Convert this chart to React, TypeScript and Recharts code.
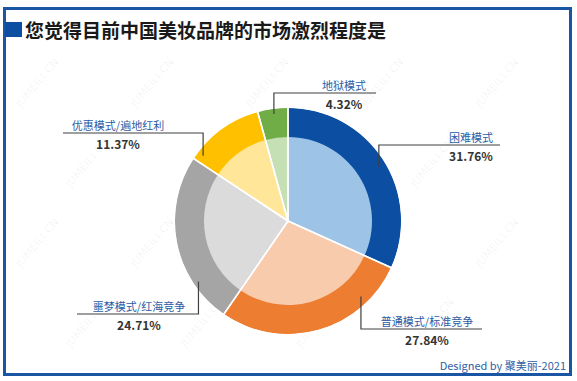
import React from "react";
import { PieChart, Pie, Cell } from "recharts";

const categories = [
  "困难模式",
  "普通模式/标准竞争",
  "噩梦模式/红海竞争",
  "优惠模式/遍地红利",
  "地狱模式",
];
const shares = [31.76, 27.84, 24.71, 11.37, 4.32];

const ringColors = ["#0B4EA2", "#ED7D31", "#A5A5A5", "#FFC000", "#70AD47"];
const fillColors = ["#9DC3E6", "#F8CBAD", "#DBDBDB", "#FFE699", "#C5E0B4"];

// leader line layout, relative to the pie centre
const labelLayout = [
  { angle: 31, r: 106, elbowDy: -76, lineDx: 212, textDx: 183 },
  { angle: -46, r: 105, elbowDy: 108, lineDx: 194, textDx: 139 },
  { angle: -146, r: 108, elbowDy: 93, lineDx: -211, textDx: -149 },
  { angle: 142.5, r: 107, elbowDy: -88, lineDx: -225, textDx: -170 },
  { angle: 97.5, r: 108, elbowDy: -128, lineDx: 88, textDx: 56 },
];

const data = categories.map((name, i) => ({ name, value: shares[i] }));

const CX = 288;
const CY = 221;
const OUTER = 113;
const INNER = 84;
const FONT = '"Noto Sans CJK SC", "Noto Sans", sans-serif';

const renderLabel = (props: any) => {
  const { cx, cy, index } = props;
  const l = labelLayout[index];
  const rad = (l.angle * Math.PI) / 180;
  const ax = cx + l.r * Math.cos(rad);
  const ay = cy - l.r * Math.sin(rad);
  const ey = cy + l.elbowDy;
  const ex = cx + l.lineDx;
  const tx = cx + l.textDx;
  return (
    <g key={`lbl-${index}`}>
      <polyline
        points={`${ax},${ay} ${ax},${ey} ${ex},${ey}`}
        fill="none"
        stroke="#404040"
        strokeWidth={1.2}
      />
      <text
        x={tx}
        y={ey - 8}
        textAnchor="middle"
        dominantBaseline="central"
        fill="#2B5CA5"
        fontSize={11}
        fontFamily={FONT}
      >
        {categories[index]}
      </text>
      <text
        x={tx}
        y={ey + 10.5}
        textAnchor="middle"
        dominantBaseline="central"
        fill="#333333"
        fontSize={12}
        fontWeight="bold"
        fontFamily={FONT}
      >
        {shares[index].toFixed(2)}%
      </text>
    </g>
  );
};

const Watermark: React.FC = () => {
  const items: React.ReactElement[] = [];
  for (let row = 0; row < 4; row++) {
    for (let col = 0; col < 5; col++) {
      const x = 40 + col * 115 + (row % 2) * 50;
      const y = 85 + row * 80;
      if (x > 540) continue;
      items.push(
        <text
          key={`${row}-${col}`}
          x={x}
          y={y}
          transform={`rotate(-50 ${x} ${y})`}
          fontSize={11}
          fontFamily="DejaVu Sans, sans-serif"
          fill="#000"
          fillOpacity={0.06}
          textAnchor="middle"
        >
          JUMEILI.CN
        </text>
      );
    }
  }
  return (
    <svg width={577} height={381} style={{ position: "absolute", left: 0, top: 0, pointerEvents: "none" }}>
      {items}
    </svg>
  );
};

const App: React.FC = () => {
  return (
    <div
      style={{
        position: "absolute",
        left: 0,
        top: 0,
        width: 577,
        height: 381,
        background: "#fff",
        overflow: "hidden",
        fontFamily: FONT,
      }}
    >
      <div
        style={{
          position: "absolute",
          left: 3,
          top: 7,
          width: 563,
          height: 363,
          border: "3px solid #1B56A5",
        }}
      />
      <div
        style={{
          position: "absolute",
          left: 5,
          top: 22,
          width: 17,
          height: 15,
          background: "#0B4EA2",
        }}
      />
      <div
        style={{
          position: "absolute",
          left: 25,
          top: 17,
          fontSize: 19,
          lineHeight: "26px",
          fontWeight: "bold",
          color: "#1a1a1a",
          whiteSpace: "nowrap",
        }}
      >
        您觉得目前中国美妆品牌的市场激烈程度是
      </div>
      <Watermark />
      <div style={{ position: "absolute", left: 0, top: 0 }}>
        <PieChart width={577} height={381} margin={{ top: 0, right: 0, bottom: 0, left: 0 }}>
          <Pie
            data={data}
            dataKey="value"
            nameKey="name"
            cx={CX}
            cy={CY}
            startAngle={90}
            endAngle={-270}
            outerRadius={OUTER}
            stroke="none"
            isAnimationActive={false}
          >
            {data.map((d, i) => (
              <Cell key={d.name} fill={ringColors[i]} />
            ))}
          </Pie>
          <Pie
            data={data}
            dataKey="value"
            nameKey="name"
            cx={CX}
            cy={CY}
            startAngle={90}
            endAngle={-270}
            outerRadius={INNER}
            stroke="none"
            isAnimationActive={false}
          >
            {data.map((d, i) => (
              <Cell key={d.name} fill={fillColors[i]} />
            ))}
          </Pie>
          <Pie
            data={data}
            dataKey="value"
            nameKey="name"
            cx={CX}
            cy={CY}
            startAngle={90}
            endAngle={-270}
            outerRadius={OUTER + 1}
            fill="none"
            stroke="#ffffff"
            strokeWidth={1.5}
            label={renderLabel}
            labelLine={false}
            isAnimationActive={false}
          >
            {data.map((d) => (
              <Cell key={d.name} fill="none" stroke="#ffffff" />
            ))}
          </Pie>
        </PieChart>
      </div>
      <div
        style={{
          position: "absolute",
          right: 11,
          top: 357,
          fontSize: 11,
          lineHeight: "16px",
          color: "#2E5FA6",
          whiteSpace: "nowrap",
        }}
      >
        Designed by 聚美丽-2021
      </div>
    </div>
  );
};

export default App;
